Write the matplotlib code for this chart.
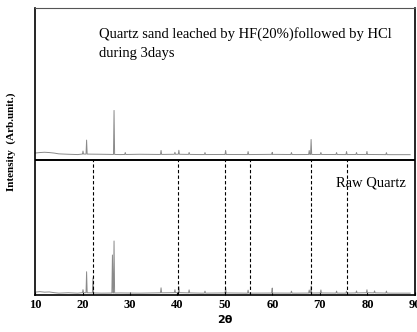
import numpy as np
import matplotlib.pyplot as plt

plt.rcParams['font.family'] = ['Liberation Serif', 'DejaVu Serif']

# baseline (2theta, intensity) for each pattern, in arbitrary units
base_x = [10, 11, 12, 13, 14, 15, 17, 19, 20, 24, 28, 32, 36, 40, 45, 50, 55, 60, 65, 70, 75, 80, 85, 89]
raw_base = [3, 3.5, 3, 3.2, 2.5, 2, 2.4, 2, 2.5, 2, 2.2, 2, 2.3, 2.5, 2, 2.2, 2, 2.1, 2, 2.2, 2, 2.4, 2, 2]
hf_base = [5, 5.5, 5.8, 5.5, 5, 4.2, 3.8, 3.5, 4, 3.8, 3.5, 3.8, 3.6, 3.8, 3.5, 3.6, 3.5, 3.7, 3.5, 3.6, 3.5, 3.6, 3.4, 3.4]

# peaks: positions and heights above baseline
raw_pk_x = [20.1, 20.86, 22.2, 26.3, 26.64, 36.54, 39.46, 40.29, 42.45, 45.79, 50.14, 54.87, 59.96, 64.0, 67.74, 68.14, 70.2, 73.5, 75.6, 77.7, 79.9, 81.5, 84.0]
raw_pk_h = [3, 21, 15, 38, 52, 5, 3, 6, 3, 2, 5, 3, 5, 2, 3, 7, 3, 2, 2, 2, 3, 2, 2]
hf_pk_x = [20.1, 20.86, 26.64, 29.0, 36.54, 39.46, 40.29, 42.45, 45.79, 50.14, 54.87, 59.96, 64.0, 67.74, 68.14, 70.2, 73.5, 75.6, 77.7, 79.9, 84.0]
hf_pk_h = [3, 14, 44, 2, 4, 2, 4, 2, 2, 4, 3, 2, 2, 4, 15, 2, 2, 3, 2, 3, 2]

# reference lines
ref_x = [22.2, 40.1, 50.1, 55.3, 68.1, 75.6]

xticks = [10, 20, 30, 40, 50, 60, 70, 80, 90]

mid = 135      # separator between the two patterns
hf_off = 137   # offset of the leached pattern


def pattern(bx, by, px, ph):
    xs = list(bx)
    ys = list(by)
    for p, h in zip(px, ph):
        b = np.interp(p, bx, by)
        xs += [p - 0.12, p, p + 0.12]
        ys += [b, b + h, b]
    order = np.argsort(xs)
    return np.array(xs)[order], np.array(ys)[order]


fig = plt.figure(figsize=(4.17, 3.32), dpi=100)
ax = fig.add_axes([0.084, 0.111, 0.911, 0.865])

x1, y1 = pattern(base_x, raw_base, raw_pk_x, raw_pk_h)
x2, y2 = pattern(base_x, hf_base, hf_pk_x, hf_pk_h)
ax.plot(x1, y1, color="#8a8a8a", lw=0.7)
ax.plot(x2, np.array(y2) + hf_off, color="#8a8a8a", lw=0.7)

ax.axhline(mid, color="black", lw=1.4)
for r in ref_x:
    ax.plot([r, r], [0, mid], color="black", lw=0.8, ls=(0, (3, 2)))

ax.text(23.5, 268, "Quartz sand leached by HF(20%)followed by HCl\nduring 3days",
        fontsize=10.5, va="top", ha="left", linespacing=1.6)
ax.text(88.1, 112, "Raw Quartz", fontsize=10.5, ha="right", va="center")

ax.set_xlim(10, 90)
ax.set_ylim(0, 287)
ax.set_xticks(xticks)
ax.set_yticks([])
ax.tick_params(axis="x", direction="in", length=2, pad=3, labelsize=9)
for lbl in ax.get_xticklabels():
    lbl.set_fontweight("bold")
ax.set_xlabel("2θ", fontsize=8, fontweight="bold", family=["DejaVu Sans"], labelpad=3)
ax.set_ylabel("Intensity  (Arb.unit.)", fontsize=8, fontweight="bold")
ax.yaxis.set_label_coords(-0.05, 0.533)
for sp in ax.spines.values():
    sp.set_linewidth(1.2)
ax.spines["top"].set_color("#555555")
ax.spines["top"].set_linewidth(0.8)

fig.savefig("out.png", dpi=100, facecolor="white")
